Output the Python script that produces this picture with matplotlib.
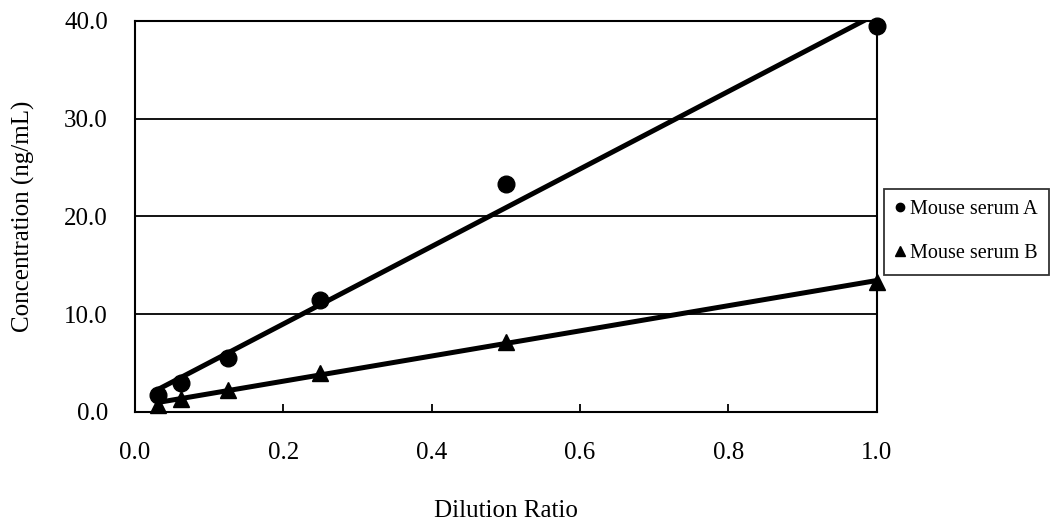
import matplotlib.pyplot as plt
import numpy as np
from matplotlib.lines import Line2D

plt.rcParams['font.family'] = ['Liberation Serif', 'DejaVu Serif']

# dilution ratios and measured concentrations (ng/mL)
dilution = [1/32, 1/16, 1/8, 1/4, 1/2, 1.0]
serum_a = [1.7, 3.0, 5.5, 11.5, 23.3, 39.5]
serum_b = [0.7, 1.3, 2.3, 4.0, 7.2, 13.3]
labels = ['Mouse serum A', 'Mouse serum B']

fig = plt.figure(figsize=(10.51, 5.2), dpi=100)
ax = fig.add_axes([0.1285, 0.2077, 0.7055, 0.752])

x = np.array(dilution)
xs = np.array([x.min(), x.max()])
for ys, mk in [(serum_a, 'o'), (serum_b, '^')]:
    ax.plot(x, ys, linestyle='none', marker=mk, color='black',
            markersize=12, clip_on=False, zorder=4)
    # linear trendline, clipped to the plot area like in the original
    k, b = np.polyfit(x, ys, 1)
    ax.plot(xs, k * xs + b, color='black', linewidth=3.6, zorder=3)

ax.set_xlim(0, 1.0)
ax.set_ylim(0, 40)
ax.set_xticks(np.arange(0, 1.01, 0.2))
ax.set_yticks(np.arange(0, 40.1, 10))
ax.set_xticklabels(['%.1f' % v for v in np.arange(0, 1.01, 0.2)])
ax.set_yticklabels(['%.1f' % v for v in np.arange(0, 40.1, 10)])
ax.yaxis.grid(True, color='black', linewidth=1.3)
ax.set_axisbelow(True)
ax.tick_params(axis='x', direction='in', length=6, width=1.3, pad=21.5, labelsize=18)
ax.tick_params(axis='y', length=0, pad=19.5, labelsize=18)
for s in ax.spines.values():
    s.set_linewidth(1.5)

ax.set_xlabel('Dilution Ratio', fontsize=18, labelpad=26)
ax.set_ylabel('Concentration (ng/mL)', fontsize=18, labelpad=21)

handles = [Line2D([], [], linestyle='none', marker='o', color='black', markersize=6),
           Line2D([], [], linestyle='none', marker='^', color='black', markersize=7)]
leg = fig.legend(handles, labels, loc='upper left', bbox_to_anchor=(0.841, 0.6365),
                 fontsize=14.5, frameon=True, fancybox=False, edgecolor='black',
                 handlelength=0.5, handletextpad=0.25, borderpad=0.55, labelspacing=1.25,
                 borderaxespad=0)
leg.get_frame().set_linewidth(1.3)

fig.savefig('out.png', dpi=100)
